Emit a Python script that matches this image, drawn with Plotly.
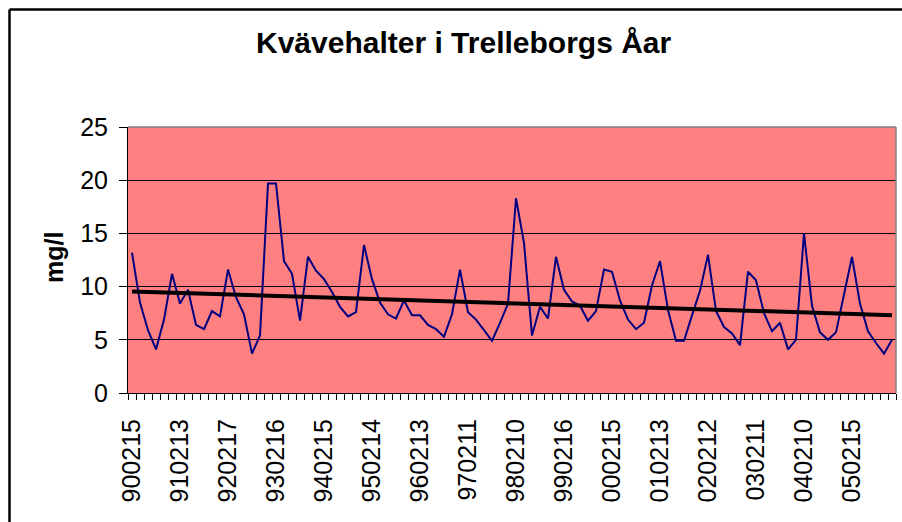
import numpy as np
import plotly.graph_objects as go

# Category tick labels (every 6th sample is labelled)
tick_labels = ["900215", "910213", "920217", "930216", "940215", "950214",
               "960213", "970211", "980210", "990216", "000215", "010213",
               "020212", "030211", "040210", "050215"]

# Nitrogen concentration, mg/l (bi-monthly samples 1990-2005)
values = [13.2, 8.5, 5.9, 4.1, 6.9, 11.2, 8.4, 9.7, 6.4, 6.0, 7.7, 7.2,
          11.6, 9.0, 7.4, 3.7, 5.4, 19.7, 19.7, 12.4, 11.2, 6.8, 12.8, 11.5,
          10.7, 9.5, 8.1, 7.2, 7.6, 13.9, 10.7, 8.5, 7.4, 7.0, 8.7, 7.3,
          7.3, 6.4, 6.0, 5.3, 7.4, 11.6, 7.6, 6.9, 5.9, 4.9, 6.6, 8.4,
          18.3, 14.1, 5.4, 8.1, 7.0, 12.8, 9.7, 8.6, 8.2, 6.8, 7.7, 11.6,
          11.4, 8.7, 6.9, 6.0, 6.6, 10.1, 12.4, 7.8, 4.9, 4.9, 7.3, 9.6,
          13.0, 7.7, 6.2, 5.6, 4.5, 11.4, 10.6, 7.5, 5.8, 6.6, 4.1, 5.0,
          15.0, 8.2, 5.7, 5.0, 5.7, 9.3, 12.8, 8.4, 5.8, 4.7, 3.7, 5.0]

title_text = "Kvävehalter i Trelleborgs Åar"
y_title = "mg/l"

x_idx = list(range(len(values)))
label_pos = x_idx[::6]
coef = np.polyfit(x_idx, values, 1)
trend_x = [x_idx[0], x_idx[-1]]
trend_y = list(np.polyval(coef, trend_x))

FONT = "Liberation Sans, Arial, sans-serif"

W, H = 902, 522
L, R, T, B = 128, 896, 127, 393  # plot area in pixels


def px(sx):
    return (sx - L) / (R - L)


def py(sy):
    return (B - sy) / (B - T)


fig = go.Figure()
fig.add_trace(go.Scatter(x=x_idx, y=values, mode="lines",
                         line=dict(color="#000080", width=2),
                         showlegend=False, hoverinfo="skip"))
fig.add_trace(go.Scatter(x=trend_x, y=trend_y, mode="lines",
                         line=dict(color="#000000", width=4),
                         showlegend=False, hoverinfo="skip"))

fig.update_layout(
    width=W, height=H, autosize=False,
    margin=dict(l=L, r=W - R, t=T, b=H - B, pad=0),
    paper_bgcolor="white", plot_bgcolor="#FF8080",
    font=dict(family=FONT, color="black", size=25),
)

fig.update_xaxes(
    range=[-0.5, len(values) - 0.5],
    tickmode="array", tickvals=label_pos, ticktext=tick_labels,
    tickangle=-90, ticks="", ticklabelstandoff=15,
    tickfont=dict(size=25, family=FONT, color="black"),
    showline=True, linecolor="black", linewidth=1,
    showgrid=False, zeroline=False,
    minor=dict(tickmode="array", tickvals=[i - 0.5 for i in range(len(values) + 1)],
               ticks="outside", ticklen=6, tickcolor="black", tickwidth=1, showgrid=False),
)
fig.update_yaxes(
    range=[0, 25], tickmode="array", tickvals=[0, 5, 10, 15, 20, 25],
    ticks="outside", ticklen=8, tickcolor="black", tickwidth=1,
    ticklabelstandoff=6,
    tickfont=dict(size=25, family=FONT, color="black"),
    showline=True, linecolor="black", linewidth=1,
    showgrid=True, gridcolor="black", gridwidth=1, zeroline=False,
)

# plot-area border (grey on top and right)
fig.add_shape(type="line", xref="paper", yref="paper", x0=0, x1=1, y0=1, y1=1,
              line=dict(color="#808080", width=1.5), layer="above")
fig.add_shape(type="line", xref="paper", yref="paper", x0=1, x1=1, y0=0, y1=1,
              line=dict(color="#808080", width=1.5), layer="above")
# outer chart border (left and top edges visible in the frame)
fig.add_shape(type="line", xref="paper", yref="paper",
              x0=px(9.5), x1=px(9.5), y0=py(540), y1=py(9.5),
              line=dict(color="black", width=2.5), layer="above")
fig.add_shape(type="line", xref="paper", yref="paper",
              x0=px(9.5), x1=px(915), y0=py(9.5), y1=py(9.5),
              line=dict(color="black", width=2.5), layer="above")

fig.add_annotation(text="<b>" + title_text + "</b>", xref="paper", yref="paper",
                   x=px(464), y=py(43),
                   xanchor="center", yanchor="middle", showarrow=False,
                   font=dict(size=30, family=FONT, color="black"))
fig.add_annotation(text="<b>" + y_title + "</b>", xref="paper", yref="paper",
                   x=px(54), y=py(258), textangle=-90,
                   xanchor="center", yanchor="middle", showarrow=False,
                   font=dict(size=25, family=FONT, color="black"))

fig.write_html("out.html", config={"displayModeBar": False},
               post_script="document.body.style.margin='0';document.body.style.overflow='hidden';")
